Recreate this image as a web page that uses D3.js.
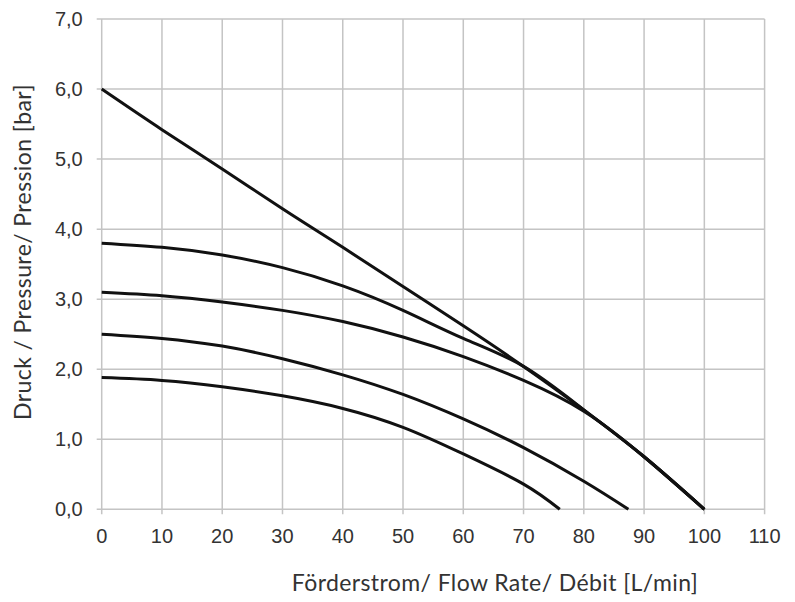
<!DOCTYPE html>
<html>
<head>
<meta charset="utf-8">
<script src="https://cdn.jsdelivr.net/npm/d3@7"></script>
<style>
    body { margin: 0; background: #fff; }
    .grid line { stroke: #c4c4c4; stroke-width: 1.5; }
    .tick-label { font-family: "Liberation Sans", Arial, sans-serif; font-size: 20px; fill: #333; }
    .title { font-family: Lato, "Open Sans", sans-serif; font-size: 23px; letter-spacing: 0.4px; fill: #333; }
    .curve { fill: none; stroke: #111; stroke-width: 3; }
</style>
</head>
<body>
<div id="chart"></div>
<script>
// flow rate [L/min] / pressure [bar]
let curveA_x = [0, 10, 20, 30, 40, 50, 60, 70, 80, 90, 100];
let curveA_y = [6.0, 5.42, 4.86, 4.29, 3.74, 3.18, 2.62, 2.04, 1.42, 0.75, 0.0];

let curveB_x = [0, 10, 20, 30, 40, 50, 60, 70, 80, 90, 100];
let curveB_y = [3.80, 3.74, 3.63, 3.45, 3.19, 2.84, 2.44, 2.04, 1.42, 0.75, 0.0];

let curveC_x = [0, 10, 20, 30, 40, 50, 60, 70, 80, 90, 100];
let curveC_y = [3.10, 3.05, 2.96, 2.84, 2.68, 2.46, 2.18, 1.84, 1.40, 0.75, 0.0];

let curveD_x = [0, 10, 20, 30, 40, 50, 60, 70, 80, 87.4];
let curveD_y = [2.50, 2.44, 2.33, 2.15, 1.92, 1.64, 1.29, 0.88, 0.40, 0.0];

let curveE_x = [0, 10, 20, 30, 40, 50, 60, 70, 76];
let curveE_y = [1.88, 1.84, 1.75, 1.62, 1.44, 1.17, 0.79, 0.36, 0.0];

let xTicks = [0, 10, 20, 30, 40, 50, 60, 70, 80, 90, 100, 110];
let yTicks = [0, 1, 2, 3, 4, 5, 6, 7];

let xTitle = 'Förderstrom/ Flow Rate/ Débit [L/min]';
let yTitle = 'Druck / Pressure/ Pression [bar]';

let width = 795,
    height = 602;

let svg = d3.select('#chart').append('svg')
    .attr('width', width)
    .attr('height', height);

let x = d3.scaleLinear()
    .domain([0, 110])
    .range([101.7, 764.6]);

let y = d3.scaleLinear()
    .domain([0, 7])
    .range([509.3, 19]);

let tickLen = 5;

// grid (lines run a little past the axes, like tick marks)
let grid = svg.append('g').classed('grid', true);

grid.selectAll('.hline')
    .data(yTicks)
    .enter().append('line')
    .attr('x1', x(0) - tickLen)
    .attr('x2', x(110))
    .attr('y1', function(d) { return y(d); })
    .attr('y2', function(d) { return y(d); });

grid.selectAll('.vline')
    .data(xTicks)
    .enter().append('line')
    .attr('x1', function(d) { return x(d); })
    .attr('x2', function(d) { return x(d); })
    .attr('y1', y(7))
    .attr('y2', y(0) + tickLen);

// tick labels
svg.append('g').selectAll('text')
    .data(yTicks)
    .enter().append('text')
    .classed('tick-label', true)
    .attr('x', x(0) - 19)
    .attr('y', function(d) { return y(d) + 7; })
    .attr('text-anchor', 'end')
    .text(function(d) { return d3.format('.1f')(d).replace('.', ','); });

svg.append('g').selectAll('text')
    .data(xTicks)
    .enter().append('text')
    .classed('tick-label', true)
    .attr('x', function(d) { return x(d); })
    .attr('y', y(0) + 34)
    .attr('text-anchor', 'middle')
    .text(function(d) { return d; });

// axis titles
svg.append('text')
    .classed('title', true)
    .attr('x', 495)
    .attr('y', 591)
    .attr('text-anchor', 'middle')
    .text(xTitle);

svg.append('text')
    .classed('title', true)
    .attr('transform', 'translate(31,252) rotate(-90)')
    .attr('text-anchor', 'middle')
    .text(yTitle);

// pump curves
let line = d3.line()
    .x(function(d) { return x(d[0]); })
    .y(function(d) { return y(d[1]); })
    .curve(d3.curveNatural);

let curves = [
    [curveA_x, curveA_y],
    [curveB_x, curveB_y],
    [curveC_x, curveC_y],
    [curveD_x, curveD_y],
    [curveE_x, curveE_y]
];

svg.append('g').selectAll('path')
    .data(curves)
    .enter().append('path')
    .classed('curve', true)
    .attr('d', function(c) { return line(d3.zip(c[0], c[1])); });
</script>
</body>
</html>
